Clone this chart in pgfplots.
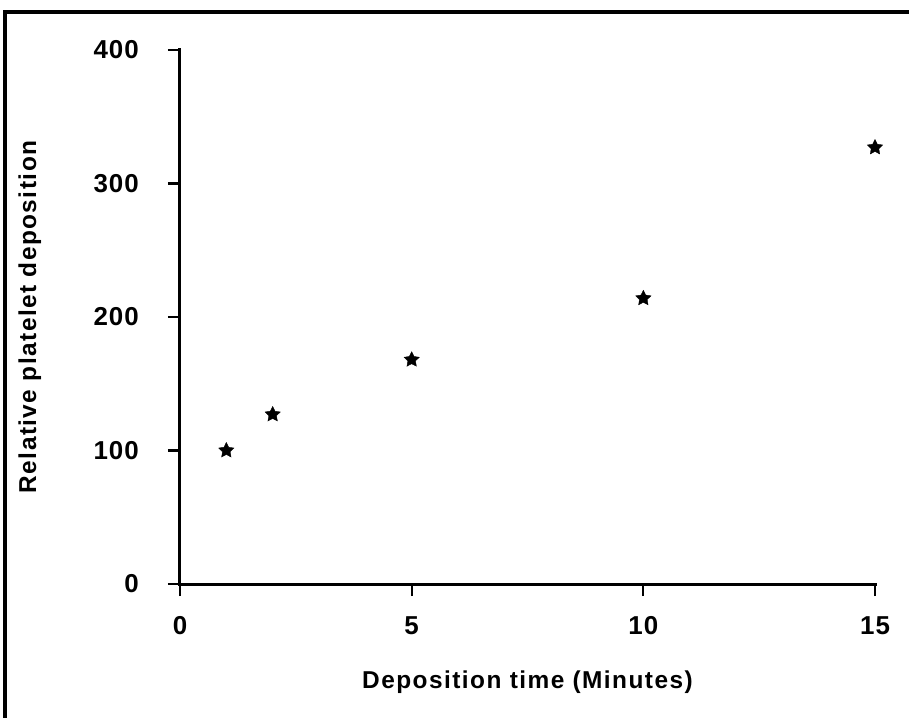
\documentclass[border=0pt]{standalone}
\usepackage{fontspec}
\setmainfont{Liberation Sans}
\newfontfamily\labfont[LetterSpace=6]{Liberation Sans}
\newfontfamily\ticfont[LetterSpace=4]{Liberation Sans}
\usepackage{pgfplots}
\pgfplotsset{compat=1.18}

\pgfdeclareplotmark{fstar}{%
  \pgfpathmoveto{\pgfpointpolar{90}{\pgfplotmarksize}}%
  \pgfpathlineto{\pgfpointpolar{126}{0.5\pgfplotmarksize}}%
  \pgfpathlineto{\pgfpointpolar{162}{\pgfplotmarksize}}%
  \pgfpathlineto{\pgfpointpolar{198}{0.5\pgfplotmarksize}}%
  \pgfpathlineto{\pgfpointpolar{234}{\pgfplotmarksize}}%
  \pgfpathlineto{\pgfpointpolar{270}{0.5\pgfplotmarksize}}%
  \pgfpathlineto{\pgfpointpolar{306}{\pgfplotmarksize}}%
  \pgfpathlineto{\pgfpointpolar{342}{0.5\pgfplotmarksize}}%
  \pgfpathlineto{\pgfpointpolar{18}{\pgfplotmarksize}}%
  \pgfpathlineto{\pgfpointpolar{54}{0.5\pgfplotmarksize}}%
  \pgfpathclose
  \pgfusepathqfillstroke
}

\begin{document}
\begin{tikzpicture}
\begin{axis}[
  name=ax,
  scale only axis,
  width=695bp, height=534bp,
  xmin=0, xmax=15, ymin=0, ymax=400,
  xtick={0,5,10,15}, ytick={0,100,200,300,400},
  axis x line*=bottom, axis y line*=left,
  axis line style={-},
  major tick style={line width=2.2bp, black},
  tick align=outside,
  major tick length=12bp,
  /pgf/number format/assume math mode=true,
  tick label style={font=\ticfont\bfseries\fontsize{26}{30}\selectfont},
  yticklabel style={inner sep=0pt, anchor=east},
  yticklabel shift=29bp,
  xticklabel style={inner sep=0pt, anchor=north},
  xticklabel shift=20bp,
  xlabel={Deposition time (Minutes)},
  ylabel={Relative platelet deposition},
  label style={font=\labfont\bfseries\fontsize{24.5}{28}\selectfont},
  xlabel style={at={(axis description cs:0.5,-0.1835)}, anchor=center},
  ylabel style={at={(axis description cs:-0.216,0.5)}, anchor=center},
  clip=false,
]
\addplot[only marks, mark=fstar, mark size=8bp, black] coordinates {
  (1,100) (2,127) (5,168) (10,214) (15,327)
};
\draw[line width=3bp, line cap=rect] (rel axis cs:0,1) -- (rel axis cs:0,0) -- (rel axis cs:1,0);
\coordinate (bl) at (rel axis cs:0,0);
\end{axis}
\useasboundingbox ([xshift=-180bp,yshift=-134bp]bl) rectangle ([xshift=729bp,yshift=584bp]bl);
\draw[line width=3.5bp] ([xshift=-175bp,yshift=-140bp]bl) -- ([xshift=-175bp,yshift=572bp]bl) -- ([xshift=735bp,yshift=572bp]bl);
\end{tikzpicture}
\end{document}
